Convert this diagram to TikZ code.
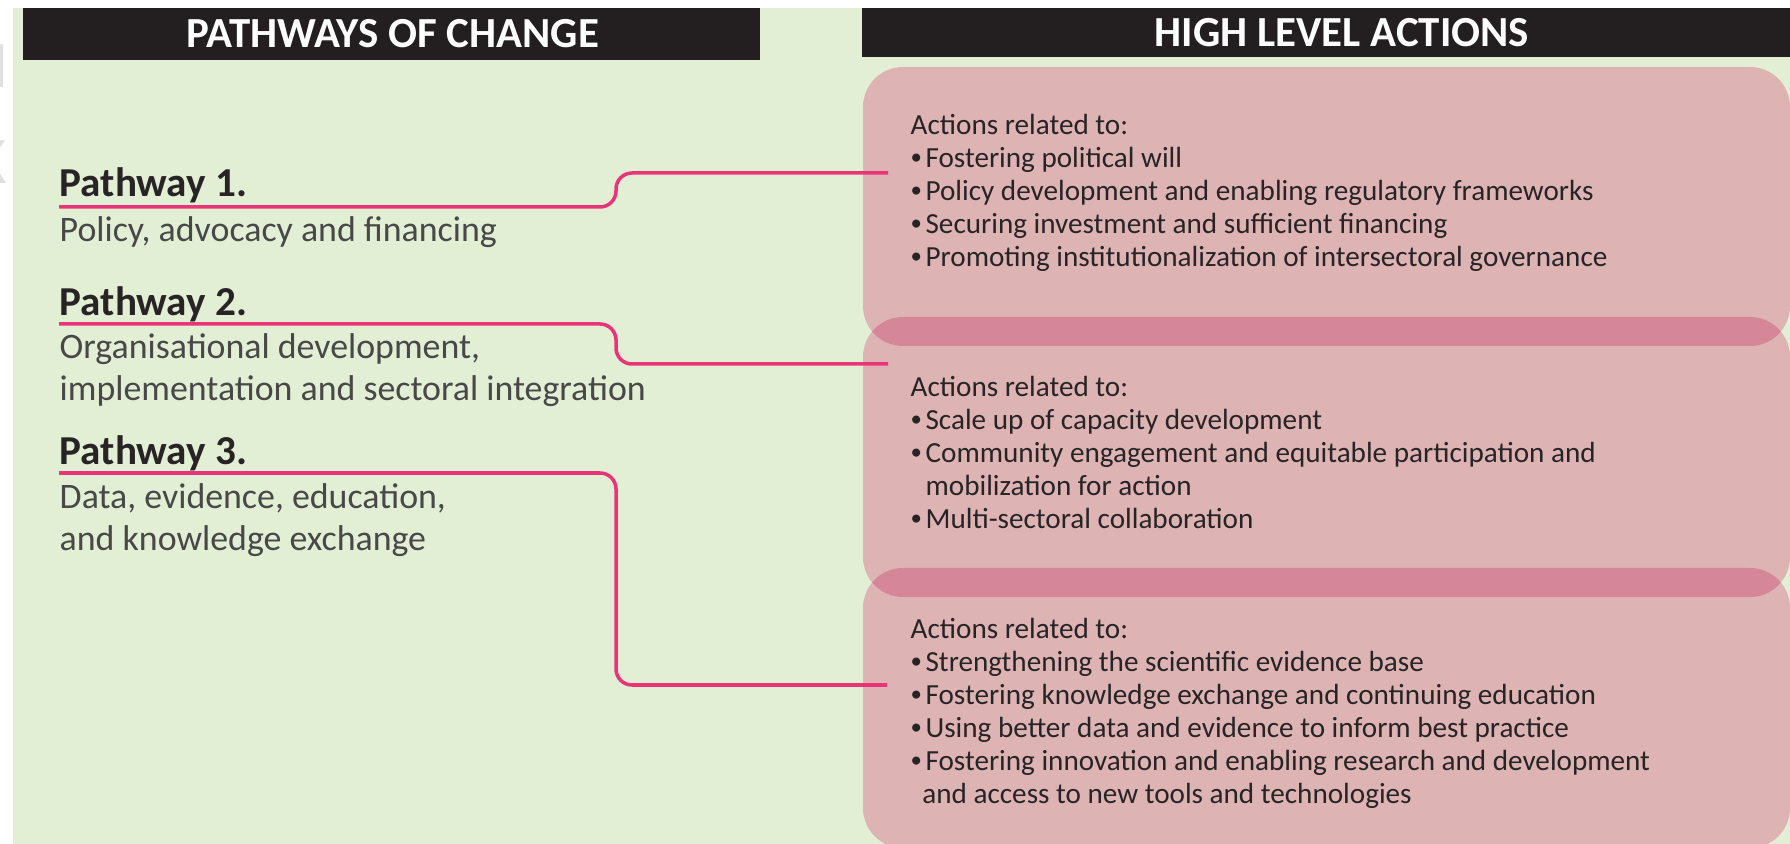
\documentclass[tikz,border=0pt]{standalone}
\usepackage{fontspec}
\setmainfont{Carlito}
\usepackage{xcolor}
\usetikzlibrary{positioning,calc}

\definecolor{bggreen}{RGB}{226,239,213}
\definecolor{barblack}{RGB}{35,31,32}
\definecolor{actpink}{RGB}{221,179,180}
\definecolor{actdeep}{RGB}{213,134,152}
\definecolor{linkpink}{RGB}{234,52,122}
\definecolor{bodygray}{RGB}{72,72,72}
\definecolor{textdark}{RGB}{40,36,38}

\newcommand{\actbullet}{\raisebox{0.12em}{\fontsize{6.5}{7}\selectfont\textbullet}\hspace{0.12em}}

\begin{document}
\begin{tikzpicture}[
    headtext/.style={text=white, inner sep=0pt, font=\fontsize{12.2}{14}\selectfont\bfseries},
    pathtitle/.style={anchor=base west, inner sep=0pt, text=textdark, font=\fontsize{11.7}{13}\selectfont\bfseries},
    pathbody/.style={anchor=base west, inner sep=0pt, align=left, text=bodygray, font=\fontsize{10.2}{12.2}\selectfont},
    actbox/.style={fill=actpink, rounded corners=0.4cm},
    acttext/.style={anchor=base west, inner sep=0pt, align=left, text=textdark, font=\fontsize{8.3}{9.4}\selectfont},
    ghost/.style={anchor=east, inner sep=0pt, text=black!12, font=\fontsize{19}{20}\selectfont},
    link/.style={draw=linkpink, line width=1pt, rounded corners=0.16cm}
]
    \useasboundingbox (0,0) rectangle (17.90,-8.44);
    \fill[bggreen] (0.13,-0.08) rectangle (18.0,-8.6);

    % faint letters cut by the left edge
    \node[ghost] (gh) at (0.09,-0.66) {H};
    \node[ghost] (gk) at (0.08,-1.62) {K};

    % header bars
    \fill[barblack] (0.23,-0.08) rectangle (7.60,-0.60);
    \fill[barblack] (8.62,-0.08) rectangle (18.0,-0.57);
    \node[headtext] (hpath) at (3.93,-0.34) {PATHWAYS OF CHANGE};
    \node[headtext] (hact) at (13.42,-0.33) {HIGH LEVEL ACTIONS};

    % action boxes
    \path[actbox] (8.63,-0.67) rectangle (17.90,-3.46);
    \path[actbox] (8.63,-3.17) rectangle (17.90,-5.97);
    \path[actbox] (8.63,-5.68) rectangle (17.90,-8.48);
    \begin{scope}
        \clip[rounded corners=0.4cm] (8.63,-0.67) rectangle (17.90,-3.46);
        \fill[actdeep, rounded corners=0.4cm] (8.63,-3.17) rectangle (17.90,-5.97);
    \end{scope}
    \begin{scope}
        \clip[rounded corners=0.4cm] (8.63,-3.17) rectangle (17.90,-5.97);
        \fill[actdeep, rounded corners=0.4cm] (8.63,-5.68) rectangle (17.90,-8.48);
    \end{scope}

    % pathways (base = last line)
    \node[pathtitle] (p1) at (0.59,-1.97) {Pathway 1.};
    \node[pathbody] (d1) at (0.59,-2.42) {Policy, advocacy and financing};
    \node[pathtitle] (p2) at (0.59,-3.16) {Pathway 2.};
    \node[pathbody] (d2) at (0.59,-4.01) {Organisational development,\\implementation and sectoral integration};
    \node[pathtitle] (p3) at (0.59,-4.65) {Pathway 3.};
    \node[pathbody] (d3) at (0.59,-5.51) {Data, evidence, education,\\and knowledge exchange};

    % actions
    \node[acttext] (t1) at (9.10,-2.67) {Actions related to:\\
        \actbullet Fostering political will\\
        \actbullet Policy development and enabling regulatory frameworks\\
        \actbullet Securing investment and sufficient financing\\
        \actbullet Promoting institutionalization of intersectoral governance};
    \node[acttext] (t2) at (9.10,-5.29) {Actions related to:\\
        \actbullet Scale up of capacity development\\
        \actbullet Community engagement and equitable participation and\\
        \phantom{\actbullet}mobilization for action\\
        \actbullet Multi-sectoral collaboration};
    \node[acttext] (t3) at (9.10,-8.04) {Actions related to:\\
        \actbullet Strengthening the scientific evidence base\\
        \actbullet Fostering knowledge exchange and continuing education\\
        \actbullet Using better data and evidence to inform best practice\\
        \actbullet Fostering innovation and enabling research and development\\
        \hspace{0.4em}and access to new tools and technologies};

    % connectors
    \coordinate (k) at (6.16,0);
    \coordinate (s1) at ([yshift=-0.10cm]p1.base west);
    \coordinate (s2) at ([yshift=-0.08cm]p2.base west);
    \coordinate (s3) at ([yshift=-0.08cm]p3.base west);
    \coordinate (e1) at (8.88,-1.73);
    \coordinate (e2) at (8.88,-3.64);
    \coordinate (e3) at (8.87,-6.85);
    \draw[link] (s1) -- (s1 -| k) -- (e1 -| k) -- (e1);
    \draw[link] (s2) -- (s2 -| k) -- (e2 -| k) -- (e2);
    \draw[link] (s3) -- (s3 -| k) -- (e3 -| k) -- (e3);
\end{tikzpicture}
\end{document}
